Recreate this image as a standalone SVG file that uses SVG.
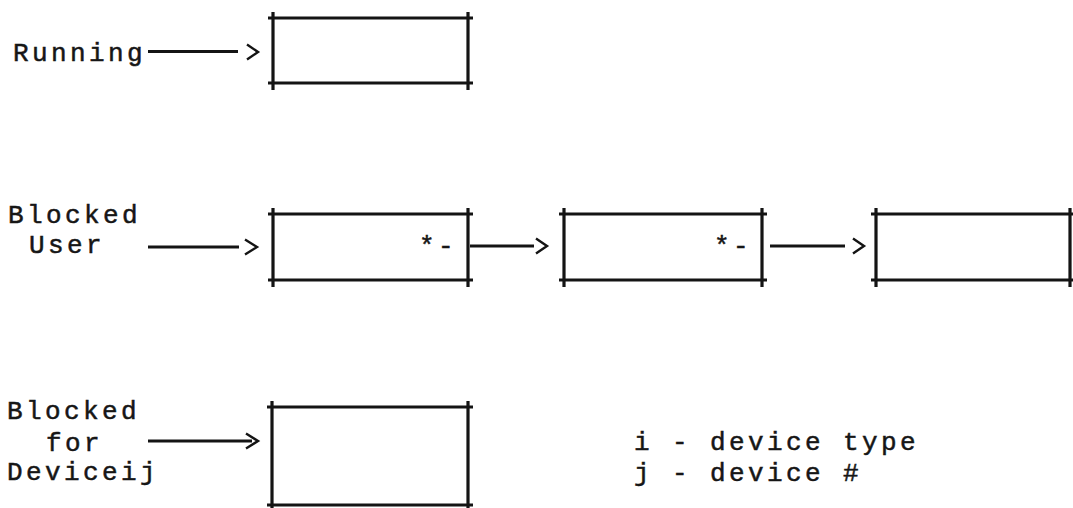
<svg xmlns="http://www.w3.org/2000/svg" width="1073" height="508" viewBox="0 0 1073 508">
<style>
  .bg { fill: #ffffff; }
  .box line { stroke: #141414; stroke-width: 3.2; stroke-linecap: butt; }
  .conn { fill: none; stroke: #141414; stroke-width: 3; stroke-linejoin: miter; }
  .chev { fill: none; stroke: #141414; stroke-width: 2.4; }
  text { font-family: "Liberation Mono", "DejaVu Sans Mono", monospace; font-size: 26px; fill: #161616; stroke: #161616; stroke-width: 0.5; letter-spacing: 3.4px; }
</style>
<rect class="bg" x="0" y="0" width="1073" height="508"/>

<g id="label-running"><text x="13" y="61">Running</text></g>
<g id="label-blocked-user"><text x="8" y="223">Blocked</text><text x="29" y="253">User</text></g>
<g id="label-blocked-device"><text x="7" y="419">Blocked</text><text x="46" y="451">for</text><text x="7" y="480">Deviceij</text></g>

<g id="node-running" class="box">
  <line x1="268" y1="18" x2="473" y2="18"/>
  <line x1="268" y1="83" x2="473" y2="83"/>
  <line x1="273" y1="12" x2="273" y2="90"/>
  <line x1="468" y1="12" x2="468" y2="90"/>
</g>

<g id="node-user-1" class="box">
  <line x1="268" y1="214" x2="473" y2="214"/>
  <line x1="268" y1="280" x2="473" y2="280"/>
  <line x1="273" y1="208" x2="273" y2="287"/>
  <line x1="468" y1="208" x2="468" y2="287"/>
  <text x="419" y="254">*-</text>
</g>

<g id="node-user-2" class="box">
  <line x1="559" y1="214" x2="767" y2="214"/>
  <line x1="559" y1="280" x2="767" y2="280"/>
  <line x1="564" y1="208" x2="564" y2="287"/>
  <line x1="762" y1="208" x2="762" y2="287"/>
  <text x="714" y="254">*-</text>
</g>

<g id="node-user-3" class="box">
  <line x1="871" y1="214" x2="1073" y2="214"/>
  <line x1="871" y1="280" x2="1073" y2="280"/>
  <line x1="876" y1="208" x2="876" y2="287"/>
  <line x1="1070" y1="208" x2="1070" y2="287"/>
</g>

<g id="node-device" class="box">
  <line x1="267" y1="407" x2="473" y2="407"/>
  <line x1="267" y1="505" x2="473" y2="505"/>
  <line x1="272" y1="401" x2="272" y2="508"/>
  <line x1="468" y1="401" x2="468" y2="508"/>
</g>

<g id="connectors">
  <path class="conn" d="M148,51.5 H238"/>
  <path class="chev" d="M247,44.5 L258,52 L247,59.5"/>
  <path class="conn" d="M148,247 H239"/>
  <path class="chev" d="M245,239.5 L257,247 L245,254.5"/>
  <path class="conn" d="M470,246 H534"/>
  <path class="chev" d="M536,238.5 L547,246 L536,253.5"/>
  <path class="conn" d="M770,246 H845"/>
  <path class="chev" d="M853,238.5 L864,246 L853,253.5"/>
  <path class="conn" d="M148,441 H252"/>
  <path class="chev" d="M246,433.5 L258,441 L246,448.5"/>
</g>

<g id="legend">
  <text x="634" y="450">i - device type</text>
  <text x="634" y="481">j - device #</text>
</g>
</svg>
